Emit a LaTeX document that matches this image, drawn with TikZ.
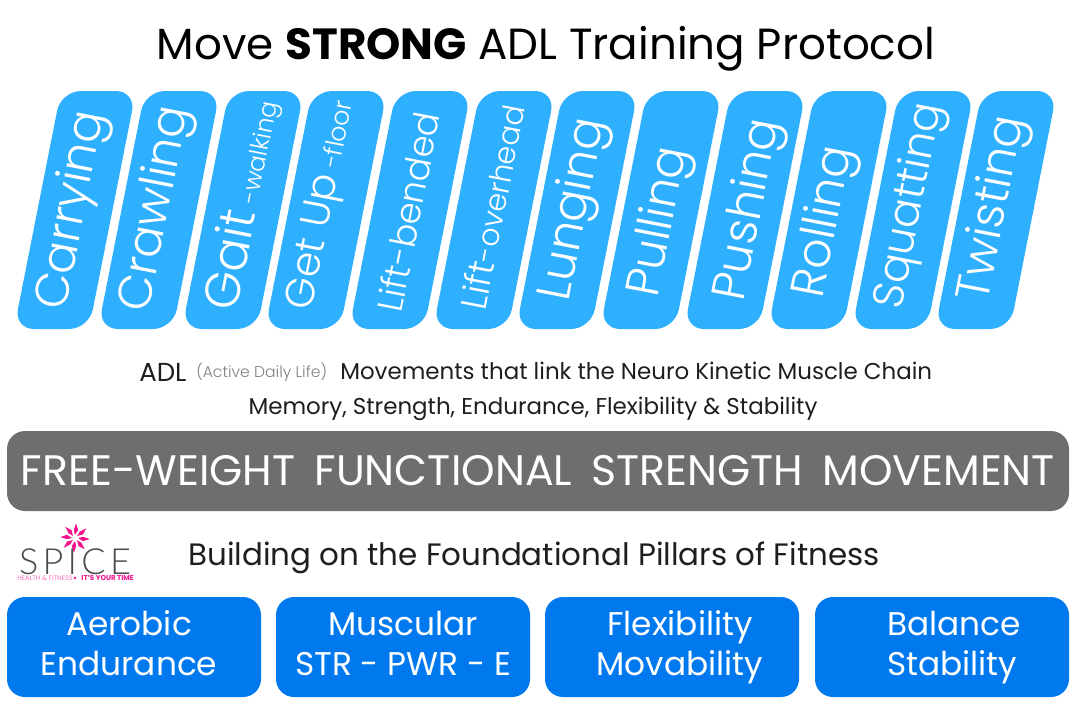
\documentclass[tikz,border=0pt]{standalone}
\usepackage{fontspec}
\setmainfont{Poppins}
\newfontfamily\lightfont{Poppins Light}
\newfontfamily\logofont[LetterSpace=12]{Lato Light}
\definecolor{barblue}{HTML}{2FB0FF}
\definecolor{pillarblue}{HTML}{0079EF}
\definecolor{bandgray}{HTML}{6E6E6E}
\definecolor{spicepink}{HTML}{F5108C}
\definecolor{spicegray}{HTML}{4A4A4A}
\definecolor{inkblack}{HTML}{1E1E1E}
\newcommand\barsize[1]{\fontsize{#1}{#1}\selectfont}
\tikzset{
  bartext/.style={text=white,font=\barsize{35.5}\lightfont,rotate=79,anchor=center,inner sep=0pt},
  pillar/.style={fill=pillarblue,rounded corners=13.5,minimum width=190.5,minimum height=75,inner sep=0pt},
  pillartext/.style={text=white,align=center,font=\fontsize{24.6}{30}\selectfont,inner sep=0pt},
  linetext/.style={text=inkblack,font=\fontsize{17.2}{17.2}\selectfont,inner sep=0pt},
}
\begin{document}
\begin{tikzpicture}[x=0.75pt,y=-0.75pt]
\useasboundingbox (0,0) rectangle (1075,719);
\node[inner sep=0pt,text=black,font=\fontsize{32.7}{32.7}\selectfont] (title) at (546,49) {Move \textbf{STRONG} ADL Training Protocol};
% slanted bars
\foreach \i/\bx in {0/14,1/98,2/182,3/265,4/349,5/433,6/516,7/600,8/684,9/768,10/852,11/935}
  \fill[barblue,rounded corners=15] (\bx,329) -- (\bx+75,329) -- (\bx+122,91) -- (\bx+47,91) -- cycle;
\node[bartext] (carrying) at (73,211) {Carrying};
\node[bartext] (crawling) at (157,209) {Crawling};
\node[bartext] (gait) at (242,205) {\barsize{37}Gait\,\barsize{18.3}-walking};
\node[bartext] (getup) at (323,205) {\barsize{30.5}Get Up\,\barsize{19}-floor};
\node[bartext,font=\barsize{26.4}\lightfont] (liftb) at (408,212) {Lift-bended};
\node[bartext] (lifto) at (492,207) {\barsize{27}Lift\barsize{22.5}-overhead};
\node[bartext] (lunging) at (575,210) {Lunging};
\node[bartext] (pulling) at (661,222) {Pulling};
\node[bartext] (pushing) at (750,210) {Pushing};
\node[bartext] (rolling) at (826,222) {Rolling};
\node[bartext,font=\barsize{32.5}\lightfont] (squatting) at (911,206) {Squatting};
\node[bartext] (twisting) at (994,209) {Twisting};
% middle lines
\node[linetext,anchor=west,font=\fontsize{19.5}{19.5}\selectfont] (adl) at (139,372) {ADL};
\node[linetext,anchor=west,font=\fontsize{11.7}{11.7}\selectfont\lightfont,text=gray] (active) at (196,372) {(Active Daily Life)};
\node[linetext,anchor=west] (moves) at (340,371) {Movements that link the Neuro Kinetic Muscle Chain};
\node[linetext] (memory) at (533,409) {Memory, Strength, Endurance, Flexibility \& Stability};
% gray band
\node[fill=bandgray,rounded corners=13.5,minimum width=796.5,minimum height=60,inner sep=0pt,text=white,font=\fontsize{32}{32}\selectfont] (band) at (538,471) {FREE-WEIGHT\hspace{0.45em}FUNCTIONAL\hspace{0.45em}STRENGTH\hspace{0.45em}MOVEMENT};
% logo
\foreach \a in {0,45,...,315}
  \fill[spicepink] (75,538) ++(\a:3) -- ++(\a+32:6) -- ++(\a-18:7) -- ++(\a+198:7) -- cycle;
\node[inner sep=0pt,text=spicegray,font=\fontsize{27}{27}\selectfont\logofont] (spice) at (75,562) {SPICE};
\node[inner sep=0pt,text=spicepink!60,anchor=west,font=\fontsize{4.9}{4.9}\selectfont] (health) at (17,578) {HEALTH \& FITNESS};
\node[fill=spicepink,circle,inner sep=0pt,minimum size=2.2] (dot) at (75,578) {};
\node[inner sep=0pt,text=spicepink,anchor=east,font=\bfseries\fontsize{5.3}{5.3}\selectfont] (time) at (134,578) {IT'S YOUR TIME};
\node[linetext,anchor=west,font=\fontsize{23.2}{23.2}\selectfont] (building) at (188,558) {Building on the Foundational Pillars of Fitness};
% pillars
\node[pillar] (aerobic) at (134,647) {};
\node[pillar] (muscular) at (403,647) {};
\node[pillar] (flexibility) at (672,647) {};
\node[pillar] (balance) at (942,647) {};
\node[pillartext] (aerobictext) at (129,647) {\strut Aerobic\\\strut Endurance};
\node[pillartext] (musculartext) at (403,647) {\strut Muscular\\\strut STR - PWR - E};
\node[pillartext] (flexibilitytext) at (680,647) {\strut Flexibility\\\strut Movability};
\node[pillartext,align=left] (balancetext) at (954,647) {\strut Balance\\\strut Stability};
\end{tikzpicture}
\end{document}
